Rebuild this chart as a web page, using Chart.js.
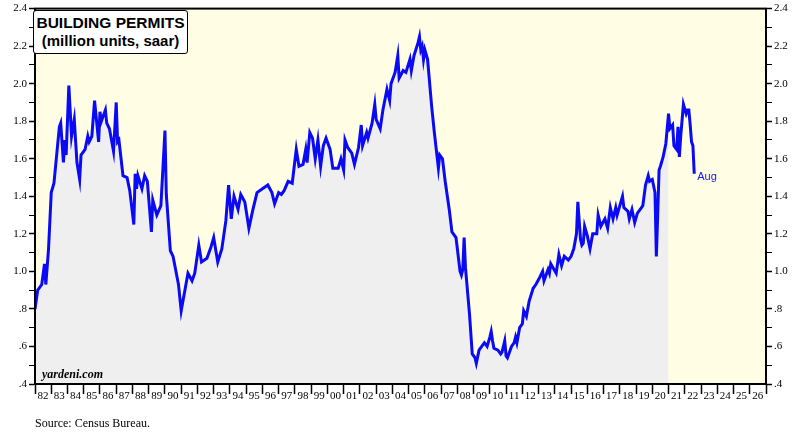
<!DOCTYPE html>
<html>
<head>
<meta charset="utf-8">
<script src="https://cdn.jsdelivr.net/npm/chart.js@4.4.1/dist/chart.umd.min.js"></script>
<style>
  html, body { margin: 0; padding: 0; background: #ffffff; }
  #wrap { position: relative; width: 800px; height: 440px; }
  #c { position: absolute; left: 0; top: 0; }
  #titlebox { position: absolute; left: 33px; top: 10px; width: 155px; height: 44px; background: #fff;
    border: 1.5px solid #000; border-radius: 3px; font-family: "Liberation Sans", Arial, sans-serif; font-weight: bold;
    text-align: center; color: #000; box-sizing: border-box; padding-top: 3px; }
  #titlebox .t1 { font-size: 15.5px; line-height: 18px; }
  #titlebox .t2 { font-size: 15px; line-height: 18px; }
  #yard { position: absolute; left: 42px; top: 367px; font-family: "Liberation Serif", "Times New Roman", serif;
    font-weight: bold; font-style: italic; font-size: 12px; color: #000; }
  #source { position: absolute; left: 35px; top: 416px; font-family: "Liberation Serif", "Times New Roman", serif;
    font-size: 12px; color: #000; }
</style>
</head>
<body>
<div id="wrap">
  <canvas id="c" width="800" height="440"></canvas>
  <div id="titlebox"><div class="t1">BUILDING PERMITS</div><div class="t2">(million units, saar)</div></div>
  <div id="yard">yardeni.com</div>
  <div id="source">Source: Census Bureau.</div>
</div>
<script>
// ---- Data (million units, saar) ----
const months = [
  '1982-01','1982-03','1982-06','1982-08','1982-09','1982-11',
  '1983-01','1983-03','1983-07','1983-08','1983-10','1983-11','1983-12',
  '1984-02','1984-04','1984-06','1984-08','1984-10','1984-11',
  '1985-02','1985-04','1985-05','1985-07','1985-09','1985-12',
  '1986-01','1986-02','1986-05','1986-06','1986-08','1986-11',
  '1987-01','1987-02','1987-03','1987-06','1987-09','1987-11',
  '1988-02','1988-03','1988-04','1988-05','1988-08','1988-10','1988-12',
  '1989-03','1989-04','1989-07','1989-10',
  '1990-01','1990-02','1990-05','1990-07','1990-11',
  '1991-01','1991-04','1991-06','1991-09','1991-11',
  '1992-02','1992-04','1992-08','1992-11',
  '1993-01','1993-04','1993-07','1993-10','1993-12',
  '1994-02','1994-04','1994-07','1994-09','1994-12',
  '1995-03','1995-06','1995-09',
  '1996-01','1996-05','1996-08','1996-10',
  '1997-01','1997-03','1997-05','1997-08','1997-11',
  '1998-02','1998-04','1998-07','1998-09','1998-10','1998-12',
  '1999-02','1999-04','1999-06','1999-08','1999-10','1999-12',
  '2000-03','2000-05','2000-09','2000-11',
  '2001-01','2001-02','2001-04','2001-07','2001-09','2001-12',
  '2002-02','2002-03','2002-06','2002-07','2002-10','2002-12',
  '2003-01','2003-04','2003-06','2003-09','2003-11','2003-12',
  '2004-03','2004-05','2004-06','2004-09','2004-11',
  '2005-02','2005-03','2005-05','2005-08','2005-09','2005-10','2005-11','2005-12',
  '2006-01','2006-03','2006-06','2006-08','2006-11','2006-12',
  '2007-02','2007-04','2007-07','2007-09','2007-12',
  '2008-03','2008-04','2008-05','2008-06','2008-07','2008-10','2008-12',
  '2009-02','2009-03','2009-05','2009-07','2009-09','2009-11',
  '2010-01','2010-02','2010-03','2010-04','2010-07','2010-09','2010-10','2010-12',
  '2011-01','2011-02','2011-05','2011-07','2011-08','2011-09','2011-11',
  '2012-01','2012-02','2012-04','2012-06','2012-09','2012-11',
  '2013-02','2013-04','2013-05','2013-08','2013-09','2013-10',
  '2014-02','2014-04','2014-06','2014-08','2014-11',
  '2015-01','2015-03','2015-05','2015-06','2015-08','2015-09','2015-10','2015-11',
  '2016-01','2016-03','2016-05','2016-08','2016-09','2016-11',
  '2017-02','2017-04','2017-06','2017-08','2017-10','2017-11',
  '2018-03','2018-04','2018-07','2018-08','2018-10','2018-12',
  '2019-02','2019-05','2019-06','2019-08','2019-10','2019-11',
  '2020-01','2020-03','2020-04','2020-05','2020-06','2020-07','2020-09','2020-11',
  '2021-01','2021-02','2021-04','2021-05','2021-07','2021-08','2021-09','2021-10','2021-12',
  '2022-02','2022-03','2022-04','2022-05','2022-06','2022-07','2022-08'
];
const permits = [
  0.80,0.90,0.93,1.04,0.93,1.12,
  1.42,1.47,1.77,1.79,1.58,1.70,1.62,
  1.99,1.72,1.81,1.58,1.49,1.62,
  1.65,1.72,1.69,1.72,1.91,1.69,
  1.85,1.80,1.86,1.79,1.76,1.64,
  1.90,1.69,1.70,1.51,1.50,1.43,
  1.25,1.52,1.44,1.51,1.44,1.51,1.48,
  1.21,1.38,1.30,1.35,
  1.75,1.41,1.11,1.08,0.93,
  0.79,0.91,0.99,0.95,0.99,
  1.14,1.05,1.07,1.13,
  1.18,1.05,1.12,1.27,1.46,
  1.28,1.40,1.33,1.41,1.37,
  1.23,1.33,1.42,
  1.44,1.46,1.42,1.36,
  1.42,1.41,1.43,1.48,1.47,
  1.65,1.56,1.57,1.65,1.58,1.74,
  1.71,1.60,1.70,1.56,1.67,1.71,
  1.65,1.55,1.55,1.60,
  1.54,1.70,1.66,1.63,1.57,1.66,
  1.78,1.67,1.74,1.71,1.79,1.89,
  1.81,1.76,1.86,1.97,1.91,2.00,
  2.06,2.15,2.03,2.07,2.06,
  2.13,2.07,2.15,2.22,2.25,2.18,2.20,2.13,
  2.18,2.13,1.88,1.74,1.55,1.62,
  1.60,1.48,1.33,1.21,1.18,
  1.00,0.98,1.01,1.18,1.02,0.77,0.56,
  0.54,0.51,0.58,0.60,0.62,0.60,
  0.65,0.68,0.63,0.59,0.58,0.56,0.57,0.63,
  0.55,0.54,0.60,0.62,0.65,0.62,0.70,
  0.72,0.79,0.76,0.84,0.91,0.93,
  0.97,1.00,0.95,1.01,0.99,1.04,
  0.99,1.09,1.03,1.08,1.06,
  1.08,1.12,1.20,1.37,1.17,1.14,1.15,1.24,
  1.19,1.12,1.20,1.20,1.30,1.24,
  1.28,1.23,1.34,1.28,1.34,1.30,
  1.40,1.34,1.32,1.28,1.33,1.26,
  1.31,1.34,1.35,1.46,1.51,1.48,
  1.49,1.42,1.08,1.30,1.54,1.56,1.61,1.68,
  1.84,1.76,1.78,1.67,1.65,1.77,1.61,1.72,1.89,
  1.84,1.86,1.86,1.78,1.69,1.67,1.52
];
const yearTicks = [];            // year boundaries 1982..2027
for (let y = 1982; y <= 2027; y++) yearTicks.push(y);
const yTicks = [0.4,0.5,0.6,0.7,0.8,0.9,1.0,1.1,1.2,1.3,1.4,1.5,1.6,1.7,1.8,1.9,2.0,2.1,2.2,2.3,2.4];
const yLabels = ['.4','','.6','','.8','','1.0','','1.2','','1.4','','1.6','','1.8','','2.0','','2.2','','2.4'];
const shadeEnd = 2021;           // grey area under the curve ends here
const lastLabel = 'Aug';

// ---- Build points ----
function toYear(s) { const [y, m] = s.split('-').map(Number); return y + (m - 1) / 12; }
const pts = months.map((m, i) => ({ x: toYear(m), y: permits[i] }));
const shadePts = pts.filter(p => p.x <= shadeEnd + 1e-9);

const tickFont = { family: '"Liberation Serif", "Times New Roman", serif', size: 11 };

const bgPlugin = {
  id: 'bg',
  beforeDraw(chart) {
    const a = chart.chartArea, ctx = chart.ctx;
    ctx.save();
    ctx.fillStyle = '#FFFDE4';
    ctx.fillRect(a.left, a.top, a.right - a.left, a.bottom - a.top);
    ctx.restore();
  },
  afterDraw(chart) {
    const a = chart.chartArea, ctx = chart.ctx;
    ctx.save();
    ctx.strokeStyle = '#000';
    ctx.lineWidth = 2;
    ctx.strokeRect(a.left, a.top, a.right - a.left, a.bottom - a.top);
    // end label
    const meta = chart.getDatasetMeta(0);
    const last = meta.data[meta.data.length - 1];
    ctx.fillStyle = '#1515F0';
    ctx.font = '11px "Liberation Sans", Arial, sans-serif';
    ctx.textBaseline = 'middle';
    ctx.fillText(lastLabel, last.x + 3, last.y + 3);
    ctx.restore();
  }
};

function yAxis(position) {
  return {
    type: 'linear', position: position, min: 0.4, max: 2.4,
    afterBuildTicks(s) { s.ticks = yTicks.map(v => ({ value: v })); },
    afterFit(s) { s.width = position === 'left' ? 35 : 34; },
    ticks: {
      autoSkip: false, font: tickFont, color: '#000', padding: 2,
      callback: (v, i) => yLabels[i]
    },
    grid: { drawOnChartArea: false, drawTicks: true, tickLength: 6, tickColor: '#000',
            tickWidth: ctx => (ctx.index % 2 === 0 ? 1.5 : 1) },
    border: { display: true, color: '#000', width: 2 }
  };
}

new Chart(document.getElementById('c'), {
  type: 'line',
  data: {
    datasets: [
      { data: pts, borderColor: '#0A0AF5', borderWidth: 3, pointRadius: 0, tension: 0, fill: false, order: 0 },
      { data: shadePts, borderWidth: 0, borderColor: 'rgba(0,0,0,0)', backgroundColor: '#EFEFEF',
        pointRadius: 0, tension: 0, fill: 'start', order: 1 }
    ]
  },
  options: {
    responsive: false, animation: false, devicePixelRatio: 1,
    layout: { padding: { top: 5, left: 0, right: 0, bottom: 0 } },
    plugins: { legend: { display: false }, tooltip: { enabled: false } },
    scales: {
      x: {
        type: 'linear', min: 1982, max: 2027,
        afterBuildTicks(s) { s.ticks = yearTicks.map(v => ({ value: v })); },
        afterFit(s) { s.height = 56; },
        ticks: {
          autoSkip: false, maxRotation: 0, minRotation: 0, font: tickFont, color: '#000',
          labelOffset: 8, padding: -4,
          callback: v => (v < 2027 ? String(v % 100).padStart(2, '0') : '')
        },
        grid: { drawOnChartArea: false, drawTicks: true, tickLength: 10, tickColor: '#000', tickWidth: 1.5 },
        border: { display: true, color: '#000', width: 2 }
      },
      y: yAxis('left'),
      y2: yAxis('right')
    }
  },
  plugins: [bgPlugin]
});
</script>
</body>
</html>
